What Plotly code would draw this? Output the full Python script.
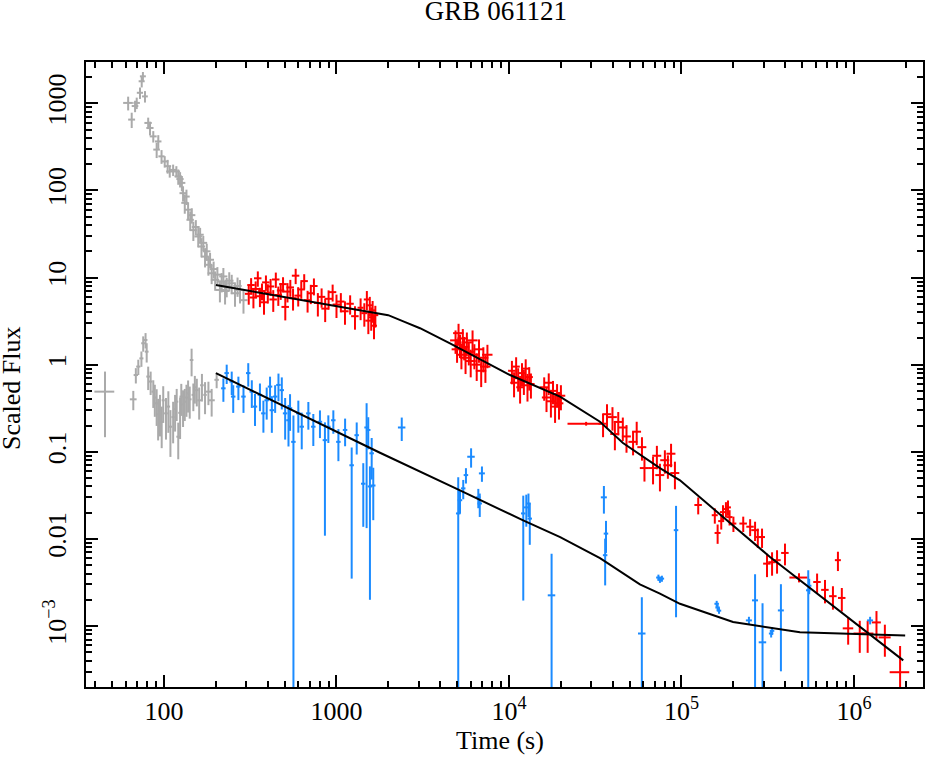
import plotly.graph_objects as go

# ---------------- data ----------------
# BAT light curve (grey, upper)
bat_t = [62, 65, 68, 69.5, 72.6, 74.3, 75.5, 77.6, 81, 83,
         86.7, 90.7, 92.7, 96.8, 101, 105, 108, 113, 118, 121,
         124, 127, 129, 132, 135, 138, 142, 145, 148, 153,
         158, 162, 165, 169, 173, 177, 181, 185, 189, 194,
         198, 204, 211, 216, 221, 226, 231, 239, 247, 258,
         267, 276, 289]
bat_f = [1010, 650, 930, 1010, 1320, 1790, 2040, 1200, 595, 521,
         417, 294, 365, 246, 215, 190, 165, 172, 165, 145,
         135, 122, 93, 72, 85, 60, 46, 52, 35, 38,
         29.6, 31, 22.7, 25, 17.4, 20, 14, 16, 11.2, 12.5,
         9.4, 10.8, 7.2, 9.0, 10.3, 7.0, 7.9, 9.2, 8.6, 6.6,
         8.0, 7.2, 5.5]
bat_rel = [0.18, 0.2, 0.15, 0.15, 0.15, 0.15, 0.12, 0.15, 0.15, 0.18,
           0.15, 0.2, 0.18, 0.18, 0.15, 0.18, 0.15, 0.15, 0.15, 0.2,
           0.2, 0.2, 0.2, 0.25, 0.2, 0.22, 0.25, 0.2, 0.25, 0.2,
           0.25, 0.2, 0.25, 0.2, 0.25, 0.22, 0.25, 0.2, 0.25, 0.22,
           0.25, 0.22, 0.28, 0.25, 0.25, 0.3, 0.25, 0.25, 0.25, 0.3,
           0.25, 0.3, 0.3]
bat_dt = [4, 3, 3, 3, 3, 3, 3, 3, 4, 4,
          4, 4, 4, 4, 5, 5, 5, 6, 6, 6,
          6, 6, 6, 6, 6, 7, 7, 7, 7, 8,
          8, 8, 8, 9, 9, 9, 10, 10, 10, 10,
          11, 11, 12, 12, 12, 13, 13, 14, 14, 14,
          15, 15, 16]

# BAT hardness-like curve (grey, lower)
hr_t = [45.5, 66.4, 68.7, 71, 74, 75.8, 78.2, 79.4, 81, 83.7,
        86.7, 88.5, 90.7, 92.5, 94.8, 97, 99, 102.7, 106, 109,
        113, 116, 118.5, 121, 124, 126, 129, 132, 135, 138,
        141, 144.6, 148, 151, 155, 160, 166, 173, 181, 189,
        202]
hr_f = [0.49, 0.40, 0.76, 0.95, 1.18, 1.76, 1.92, 1.41, 0.73, 0.64,
        0.49, 0.42, 0.36, 0.27, 0.30, 0.22, 0.39, 0.276, 0.33, 0.194,
        0.25, 0.31, 0.376, 0.149, 0.28, 0.43, 0.35, 0.376, 0.42, 0.47,
        0.40, 1.13, 0.45, 0.55, 0.51, 0.39, 0.58, 0.45, 0.49, 0.39,
        0.67]
hr_rel = [0.7, 0.25, 0.2, 0.2, 0.2, 0.2, 0.2, 0.25, 0.3, 0.3,
          0.35, 0.4, 0.45, 0.5, 0.5, 0.5, 0.45, 0.5, 0.5, 0.55,
          0.5, 0.45, 0.4, 0.45, 0.5, 0.4, 0.45, 0.4, 0.4, 0.4,
          0.4, 0.35, 0.35, 0.35, 0.35, 0.4, 0.35, 0.4, 0.3, 0.35,
          0.2]
hr_dt = [6, 3, 2, 2, 2, 2, 2, 2, 2, 2,
         2, 2, 2, 2, 2, 2, 2, 2.5, 2.5, 2.5,
         2.5, 2.5, 2.5, 3, 3, 3, 3, 3, 3, 3,
         3.5, 3.5, 3.5, 3.5, 3.5, 4, 4, 4, 8, 8,
         6]

# XRT flux (red)
xrt_t = [310, 320, 330, 340, 350, 360, 370, 380, 390, 400,
         415, 430, 445, 460, 475, 490, 505, 520, 540, 560,
         580, 600, 625, 650, 680, 710, 740, 780, 820, 860,
         900, 950, 1000, 1060, 1120, 1200, 1280, 1380, 1450, 1500,
         1530, 1560, 1590, 1620, 1650, 1680,
         4900, 5000, 5100, 5200, 5300, 5400, 5500, 5600, 5700, 5850,
         6000, 6150, 6300, 6500, 6700, 6900, 7100, 7300, 7500,
         10400, 10700, 11000, 11300, 11600, 11900, 12200, 12500, 12800, 13100,
         13400,
         16000, 16500, 17000, 17500, 18000, 18500, 19000, 19500, 20000,
         28000,
         35100, 37000, 39800, 41100, 43000, 45700, 48000, 52400, 55000, 59000,
         61000, 68400, 72000, 75000, 80100, 83400, 87000, 91600,
         125000, 156000, 162000, 170000, 174000, 181000, 186000, 190000, 200000,
         228000, 250000, 267000, 277000, 293000, 313000, 335000, 358000, 398000,
         480000, 611000, 679000, 755000, 807000, 850000, 925000,
         1080000, 1200000, 1350000, 1510000, 1850000]
xrt_f = [6.5, 8.2, 5.9, 7.4, 9.8, 6.1, 7.0, 5.2, 8.8, 6.7,
         7.9, 5.6, 9.5, 6.3, 7.1, 8.4, 4.6, 6.9, 7.7, 5.8,
         10.5, 6.2, 7.3, 9.1, 5.5, 6.6, 8.0, 5.1, 6.0, 4.4,
         5.7, 6.8, 4.9, 5.3, 4.1, 5.0, 3.6, 4.5, 3.9, 5.6,
         3.2, 4.8, 3.5, 4.2, 2.8, 3.7,
         1.9, 1.5, 2.3, 1.7, 1.3, 2.0, 1.6, 1.2, 1.8, 1.4,
         1.1, 1.9, 1.3, 1.0, 1.5, 0.85, 1.2, 0.95, 1.3,
         0.85, 0.62, 0.95, 0.7, 0.55, 0.8, 0.66, 0.9, 0.58, 0.72,
         0.6,
         0.55, 0.42, 0.62, 0.38, 0.5, 0.33, 0.46, 0.36, 0.44,
         0.21,
         0.21, 0.27, 0.25, 0.16, 0.22, 0.19, 0.15, 0.13, 0.17, 0.113,
         0.065, 0.065, 0.09, 0.054, 0.08, 0.07, 0.095, 0.057,
         0.0245, 0.0187, 0.0117, 0.016, 0.0203, 0.022, 0.023, 0.0178, 0.015,
         0.015, 0.0138, 0.0126, 0.0105, 0.0105, 0.0052, 0.0054, 0.0057, 0.0069,
         0.0036, 0.0032, 0.0026, 0.0022, 0.0057, 0.0021, 0.00094,
         0.00082, 0.00082, 0.0011, 0.00074, 0.000295]
xrt_rel = [0.25, 0.2, 0.25, 0.22, 0.2, 0.25, 0.22, 0.28, 0.2, 0.25,
           0.22, 0.28, 0.2, 0.25, 0.22, 0.2, 0.3, 0.25, 0.22, 0.28,
           0.2, 0.25, 0.22, 0.2, 0.28, 0.25, 0.22, 0.3, 0.25, 0.3,
           0.25, 0.22, 0.3, 0.25, 0.3, 0.25, 0.3, 0.28, 0.3, 0.25,
           0.3, 0.25, 0.3, 0.28, 0.3, 0.28,
           0.3, 0.3, 0.28, 0.3, 0.32, 0.28, 0.3, 0.35, 0.3, 0.3,
           0.35, 0.3, 0.32, 0.35, 0.3, 0.35, 0.32, 0.35, 0.3,
           0.3, 0.32, 0.28, 0.3, 0.35, 0.3, 0.32, 0.28, 0.35, 0.3,
           0.32,
           0.3, 0.32, 0.28, 0.35, 0.3, 0.35, 0.3, 0.35, 0.32,
           0.05,
           0.3, 0.3, 0.3, 0.35, 0.3, 0.3, 0.35, 0.3, 0.3, 0.3,
           0.3, 0.35, 0.3, 0.35, 0.3, 0.3, 0.3, 0.35,
           0.22, 0.2, 0.25, 0.2, 0.2, 0.2, 0.2, 0.2, 0.2,
           0.2, 0.22, 0.25, 0.25, 0.25, 0.3, 0.3, 0.3, 0.28,
           0.12, 0.25, 0.3, 0.3, 0.25, 0.3, 0.35,
           0.4, 0.4, 0.35, 0.4, 1.0]
xrt_dtr = [0.05, 0.05, 0.05, 0.05, 0.05, 0.05, 0.05, 0.05, 0.05, 0.05,
           0.05, 0.05, 0.05, 0.05, 0.05, 0.05, 0.05, 0.05, 0.05, 0.05,
           0.05, 0.05, 0.05, 0.05, 0.05, 0.05, 0.05, 0.05, 0.05, 0.05,
           0.05, 0.05, 0.05, 0.05, 0.05, 0.05, 0.05, 0.04, 0.04, 0.04,
           0.04, 0.04, 0.04, 0.04, 0.04, 0.04,
           0.07, 0.07, 0.07, 0.07, 0.07, 0.07, 0.07, 0.07, 0.07, 0.07,
           0.07, 0.07, 0.07, 0.07, 0.07, 0.07, 0.07, 0.07, 0.07,
           0.05, 0.05, 0.05, 0.05, 0.05, 0.05, 0.05, 0.05, 0.05, 0.05,
           0.05,
           0.06, 0.06, 0.06, 0.06, 0.06, 0.06, 0.06, 0.06, 0.06,
           0.22,
           0.06, 0.06, 0.06, 0.06, 0.06, 0.06, 0.06, 0.06, 0.06, 0.06,
           0.06, 0.06, 0.06, 0.06, 0.06, 0.06, 0.06, 0.06,
           0.05, 0.04, 0.04, 0.04, 0.04, 0.04, 0.04, 0.04, 0.04,
           0.05, 0.05, 0.05, 0.04, 0.04, 0.05, 0.05, 0.05, 0.05,
           0.12, 0.05, 0.05, 0.05, 0.04, 0.05, 0.07,
           0.08, 0.08, 0.06, 0.08, 0.13]

# Hardness-ratio-like XRT series (blue)
blue_t = [221, 231, 247, 252, 270, 289, 308, 323, 337, 360,
          377, 394, 412, 422, 441, 461, 482, 504, 527, 538,
          563, 601, 629, 687, 734, 802, 857, 897, 959, 1026,
          1122, 1225, 1310, 1430, 1495, 1528, 1563, 1600, 1634,
          2390,
          5080, 5200, 5430, 5630, 6030, 6640, 6770, 6970,
          12100, 12600, 12970, 13200,
          17660,
          35500, 36500, 36100,
          58900, 73500, 75000, 77000, 93000,
          160000, 162000, 165000, 246000, 267000, 295000, 331000, 335000, 377000,
          543000, 550000, 1240000]
blue_f = [0.535, 0.8, 0.64, 0.43, 0.56, 0.43, 0.8, 0.49, 0.33, 0.45,
          0.276, 0.39, 0.56, 0.3, 0.43, 0.585, 0.51, 0.276, 0.23, 0.316,
          0.13, 0.276, 0.194, 0.276, 0.194, 0.221, 0.136, 0.194, 0.23, 0.13,
          0.178, 0.07, 0.155, 0.043, 0.19, 0.178, 0.04, 0.096, 0.041,
          0.19,
          0.0196, 0.0278, 0.038, 0.054, 0.0877, 0.030, 0.0255, 0.0565,
          0.0196, 0.023, 0.0255, 0.0171,
          0.00225,
          0.03, 0.0115, 0.0065,
          0.00082, 0.0036, 0.0034, 0.0035, 0.0126,
          0.0018, 0.00163, 0.0015, 0.00116, 0.00197, 0.00065, 0.00082, 0.00088, 0.00151,
          0.00257, 0.0029, 0.00116]
blue_em = [0.3, 0.25, 0.3, 0.35, 0.3, 0.35, 0.3, 0.35, 0.4, 0.35,
           0.4, 0.4, 0.3, 0.45, 0.35, 0.35, 0.4, 0.5, 0.5, 0.45,
           1.0, 0.4, 0.45, 0.35, 0.4, 0.35, 0.92, 0.35, 0.3, 0.4,
           0.35, 0.95, 0.4, 0.68, 0.93, 0.4, 0.95, 0.5, 0.6,
           0.3,
           1.0, 0.3, 0.25, 0.2, 0.25, 0.25, 0.3, 0.2,
           0.9, 0.4, 0.3, 0.5,
           1.0,
           0.35, 0.4, 0.55,
           1.0, 0.08, 0.08, 0.08, 0.9,
           0.08, 0.08, 0.08, 0.1, 1.0, 1.0, 0.1, 0.1, 0.8,
           1.0, 0.2, 0.1]
blue_ep = [0.3, 0.25, 0.3, 0.35, 0.3, 0.35, 0.3, 0.35, 0.4, 0.35,
           0.4, 0.4, 0.3, 0.45, 0.35, 0.35, 0.4, 0.5, 0.5, 0.45,
           1.0, 0.4, 0.45, 0.35, 0.4, 0.35, 0.6, 0.35, 0.3, 0.4,
           0.35, 0.6, 0.4, 0.72, 0.9, 0.4, 0.7, 0.5, 0.6,
           0.3,
           1.6, 0.3, 0.25, 0.2, 0.25, 0.25, 0.3, 0.2,
           0.6, 0.4, 0.3, 0.5,
           2.0,
           0.35, 0.4, 0.55,
           1.6, 0.08, 0.08, 0.08, 0.9,
           0.08, 0.08, 0.08, 0.1, 1.0, 1.8, 0.1, 0.1, 1.0,
           0.7, 0.2, 0.1]
blue_dtr = [0.03, 0.03, 0.03, 0.03, 0.03, 0.03, 0.03, 0.03, 0.03, 0.03,
            0.03, 0.03, 0.03, 0.03, 0.03, 0.03, 0.03, 0.03, 0.03, 0.03,
            0.03, 0.03, 0.03, 0.03, 0.03, 0.03, 0.03, 0.03, 0.03, 0.03,
            0.03, 0.03, 0.03, 0.03, 0.03, 0.03, 0.03, 0.03, 0.03,
            0.05,
            0.03, 0.03, 0.03, 0.03, 0.05, 0.03, 0.03, 0.04,
            0.03, 0.03, 0.03, 0.03,
            0.05,
            0.04, 0.03, 0.03,
            0.05, 0.03, 0.03, 0.03, 0.03,
            0.03, 0.03, 0.03, 0.04, 0.04, 0.05, 0.03, 0.03, 0.04,
            0.03, 0.03, 0.04]

# Model curves (black)
model_up_t = [200, 400, 800, 1200, 1787, 1995, 2500, 3050, 4550, 10140,
              19760, 30700, 33700, 45800, 75000, 98000, 326000, 1930000]
model_up_f = [8.2, 6.45, 5.08, 4.42, 3.83, 3.7, 3.08, 2.62, 1.76, 0.76,
              0.43, 0.252, 0.221, 0.126, 0.065, 0.047, 0.0062, 0.000403]
model_lo_t = [200, 1368, 1787, 5200, 12000, 19800, 33700, 57400, 75000, 98000,
              199000, 486000, 1980000]
model_lo_f = [0.80, 0.125, 0.0975, 0.036, 0.0164, 0.0105, 0.006, 0.0030, 0.00236, 0.0018,
              0.00111, 0.00085, 0.00078]

x_ticks = [100, 1000, 1e4, 1e5, 1e6]
x_ticktext = ["100", "1000", "10<sup>4</sup>", "10<sup>5</sup>", "10<sup>6</sup>"]
y_ticks = [1e-3, 1e-2, 0.1, 1, 10, 100, 1000]
y_ticktext = ["10<sup>\u22123</sup>", "0.01", "0.1", "1", "10", "100", "1000"]

# ---------------- figure ----------------
GREY = "#aaaaaa"
RED = "#ff0000"
BLUE = "#1b8bff"
FONT = "Liberation Serif, Times New Roman, serif"

fig = go.Figure()


def add_cross(t, f, em, ep, dt, color, thick):
    fig.add_trace(go.Scatter(
        x=t, y=f, mode="markers",
        marker=dict(size=0.1, color=color, opacity=0),
        error_y=dict(type="data", symmetric=False,
                     array=[v * e for v, e in zip(f, ep)],
                     arrayminus=[v * e for v, e in zip(f, em)],
                     color=color, thickness=thick, width=0),
        error_x=dict(type="data", symmetric=True, array=dt,
                     color=color, thickness=thick, width=0),
        showlegend=False, hoverinfo="skip"))


add_cross(bat_t, bat_f, bat_rel, bat_rel, bat_dt, GREY, 2)
add_cross(hr_t, hr_f, hr_rel, hr_rel, hr_dt, GREY, 2)
add_cross(xrt_t, xrt_f, xrt_rel, xrt_rel,
          [t * r for t, r in zip(xrt_t, xrt_dtr)], RED, 2)
add_cross(blue_t, blue_f, blue_em, blue_ep,
          [t * r for t, r in zip(blue_t, blue_dtr)], BLUE, 2)

fig.add_trace(go.Scatter(x=model_up_t, y=model_up_f, mode="lines",
                         line=dict(color="black", width=2), showlegend=False,
                         hoverinfo="skip"))
fig.add_trace(go.Scatter(x=model_lo_t, y=model_lo_f, mode="lines",
                         line=dict(color="black", width=2), showlegend=False,
                         hoverinfo="skip"))

# minor tick positions
minor_x = [m * 10 ** k for k in range(1, 7) for m in range(2, 10)]
minor_y = [m * 10 ** k for k in range(-4, 4) for m in range(2, 10)]

axis_common = dict(
    type="log", showline=True, linewidth=2, linecolor="black",
    mirror="allticks", ticks="inside", ticklen=12, tickwidth=2,
    tickcolor="black", showgrid=False, zeroline=False, automargin=False,
    tickfont=dict(family=FONT, size=26, color="black"),
)

fig.update_xaxes(
    **axis_common, range=[1.548, 6.40],
    tickmode="array", tickvals=x_ticks, ticktext=x_ticktext,
    minor=dict(tickmode="array", tickvals=minor_x, ticks="inside",
               ticklen=6, tickwidth=1.5, tickcolor="black", showgrid=False),
)
fig.update_yaxes(
    **axis_common, range=[-3.70, 3.474],
    tickmode="array", tickvals=y_ticks, ticktext=y_ticktext, tickangle=-90,
    ticklabelstandoff=8,
    minor=dict(tickmode="array", tickvals=minor_y, ticks="inside",
               ticklen=6, tickwidth=1.5, tickcolor="black", showgrid=False),
)

fig.update_layout(
    width=928, height=757,
    margin=dict(l=86, r=5, t=62, b=70),
    paper_bgcolor="white", plot_bgcolor="white",
    font=dict(family=FONT, size=26, color="black"),
    title=dict(text="GRB 061121", x=496 / 928, xref="container", xanchor="center",
               y=1 - 11 / 757, yref="container", yanchor="middle",
               font=dict(family=FONT, size=27, color="black")),
    annotations=[
        dict(text="Time (s)", xref="paper", yref="paper", x=0.4946, y=-0.0854,
             xanchor="center", yanchor="middle", showarrow=False,
             font=dict(family=FONT, size=26, color="black")),
        dict(text="Scaled Flux", xref="paper", yref="paper", x=-0.0884, y=0.4785,
             xanchor="center", yanchor="middle", textangle=-90, showarrow=False,
             font=dict(family=FONT, size=26, color="black")),
    ],
)

fig.write_html("out.html", config={"displayModeBar": False},
               post_script="document.body.style.margin='0px';")
